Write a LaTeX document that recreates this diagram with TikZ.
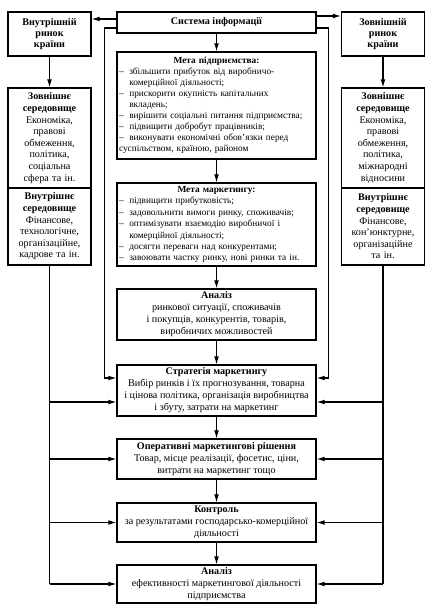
\documentclass[tikz,border=0pt]{standalone}
\usepackage{fontspec}
\setmainfont{Liberation Serif}
\usetikzlibrary{arrows.meta}
\newlength\unitpx
\setlength\unitpx{0.75pt}
\newcommand{\mitem}[1]{\par\noindent\hangindent=1.1em\hangafter=1\makebox[1.1em][l]{--}#1}

\begin{document}
\begin{tikzpicture}[x=\unitpx,y=-\unitpx,>={Latex[length=6pt,width=3.5pt]},
  thick,
  info box/.style={draw,minimum width=199\unitpx,
    inner xsep=2\unitpx,inner ysep=1pt,align=center,
    font=\fontsize{7.6}{9}\selectfont},
  list box/.style={info box,text width=195\unitpx,align=left,
    font=\fontsize{7}{8.3}\selectfont},
  side box/.style={draw,minimum width=83\unitpx,text width=80\unitpx,
    inner xsep=1.5\unitpx,inner ysep=1pt,align=center,
    font=\fontsize{7.6}{8.7}\selectfont}]

    \useasboundingbox (0,0) rectangle (433,610);

    % centre column
    \node[info box,minimum height=21\unitpx] (sys) at (216.5,22.5)
      {\textbf{Система інформації}};
    \node[list box,minimum height=107\unitpx] (goal) at (216.5,105.5) {%
      {\centering\textbf{Мета підприємства:}\par}
      \mitem{збільшити прибуток від виробничо-\newline комерційної діяльності;}
      \mitem{прискорити окупність капітальних\newline вкладень;}
      \mitem{вирішити соціальні питання підприємства;}
      \mitem{підвищити добробут працівників;}
      \mitem{виконувати економічні обов’язки перед\newline суспільством, країною, районом}};
    \node[list box,minimum height=83\unitpx,font=\fontsize{7}{8.6}\selectfont]
      (mgoal) at (216.5,224.5) {%
      {\centering\textbf{Мета маркетингу:}\par}
      \mitem{підвищити прибутковість;}
      \mitem{задовольнити вимоги ринку, споживачів;}
      \mitem{оптимізувати взаємодію виробничої і\newline комерційної діяльності;}
      \mitem{досягти переваги над конкурентами;}
      \mitem{завоювати частку ринку, нові ринки та ін.}};
    \node[info box,minimum height=51\unitpx] (mkt) at (216.5,314.5)
      {\textbf{Аналіз}\\ ринкової ситуації, споживачів\\ і покупців, конкурентів, товарів,\\
       виробничих можливостей};
    \node[info box,minimum height=51\unitpx] (strat) at (216.5,390.5)
      {\textbf{Стратегія маркетингу}\\ Вибір ринків і їх прогнозування, товарна\\
       і цінова політика, організація виробництва\\ і збуту, затрати на маркетинг};
    \node[info box,minimum height=40\unitpx] (oper) at (216.5,459)
      {\textbf{Оперативні маркетингові рішення}\\ Товар, місце реалізації, фосетис, ціни,\\
       витрати на маркетинг тощо};
    \node[info box,minimum height=39\unitpx] (ctrl) at (216.5,522.5)
      {\textbf{Контроль}\\ за результатами господарсько-комерційної\\ діяльності};
    \node[info box,minimum height=38\unitpx] (eff) at (216.5,584)
      {\textbf{Аналіз}\\ ефективності маркетингової діяльності\\ підприємства};

    % side columns
    \node[side box,minimum height=44\unitpx,font=\fontsize{7.6}{8.3}\selectfont]
      (ltop) at (49.5,34) {\textbf{Внутрішній\\ ринок\\ країни}};
    \node[side box,minimum height=44\unitpx,font=\fontsize{7.6}{8.3}\selectfont]
      (rtop) at (383,34) {\textbf{Зовнішній\\ ринок\\ країни}};
    \node[side box,minimum height=100\unitpx] (lext) at (49.5,138)
      {\textbf{Зовнішнє\\ середовище}\\ Економіка,\\ правові\\ обмеження,\\ політика,\\
       соціальна\\ сфера та ін.};
    \node[side box,minimum height=77\unitpx] (lint) at (49.5,226.5)
      {\textbf{Внутрішнє\\ середовище}\\ Фінансове,\\ технологічне,\\ організаційне,\\
       кадрове та ін.};
    \node[side box,minimum height=100\unitpx] (rext) at (383,138)
      {\textbf{Зовнішнє\\ середовище}\\ Економіка,\\ правові\\ обмеження,\\ політика,\\
       міжнародні\\ відносини};
    \node[side box,minimum height=77\unitpx] (rint) at (383,226.5)
      {\textbf{Внутрішнє\\ середовище}\\ Фінансове,\\ кон’юнктурне,\\ організаційне\\
       та ін.};

    % helper points
    \coordinate (il) at ([yshift=3.5\unitpx]sys.west);
    \coordinate (ir) at ([yshift=6.5\unitpx]sys.east);
    \coordinate (ol) at ([yshift=-5.5\unitpx]sys.west);
    \coordinate (or) at ([yshift=-5.5\unitpx]sys.east);
    \coordinate (fl) at ([yshift=12.5\unitpx]strat.west);
    \coordinate (fr) at ([yshift=12.5\unitpx]strat.east);
    \coordinate (sl) at ([yshift=-11.5\unitpx]strat.west);
    \coordinate (sr) at ([yshift=-11.5\unitpx]strat.east);

    % connectors
    \draw[->] (il) -- (il -| ltop.east);
    \draw[->] (ir) -- (ir -| rtop.west);
    \draw[->] (ol) -- ++(-12,0) |- (fl);
    \draw[->] (or) -- ++(12,0) |- (fr);
    \draw[->] (ltop) -- (lext);
    \draw[->] (rtop) -- (rext);
    \draw[->] (sys) -- (goal);
    \draw[->] (goal) -- (mgoal);
    \draw[->] (mgoal) -- (mkt);
    \draw[->] (mkt) -- (strat);
    \draw[->] (strat) -- (oper);
    \draw[->] (oper) -- (ctrl);
    \draw[->] (ctrl) -- (eff);

    \draw (lint.south) -- (lint.south |- eff.west);
    \draw (rint.south) -- (rint.south |- eff.east);
    \draw[->] (lint.south |- sl) -- (sl);
    \draw[->] (rint.south |- sr) -- (sr);
    \foreach \n in {oper,ctrl,eff} {
      \draw[->] (lint.south |- \n.west) -- (\n.west);
      \draw[->] (rint.south |- \n.east) -- (\n.east);
    }
\end{tikzpicture}
\end{document}
